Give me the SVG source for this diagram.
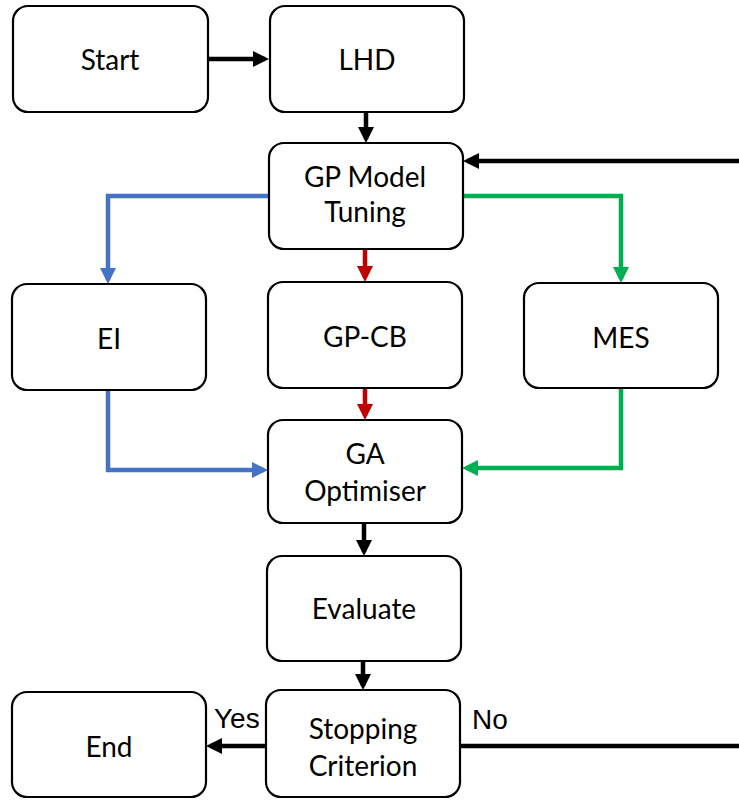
<svg xmlns="http://www.w3.org/2000/svg" width="739" height="801" viewBox="0 0 739 801">
<defs>
<style>
.box{fill:#fff;stroke:#000;stroke-width:2.2}
.t{font-family:Lato,"Open Sans","DejaVu Sans",sans-serif;font-size:28px;fill:#000;text-anchor:middle}
.lbl{font-family:"Liberation Sans",Arial,sans-serif;font-size:28px;fill:#000}
.c{fill:none;stroke-width:4.5}
.k{stroke:#000}
.b{stroke:#4472C4}
.r{stroke:#C00000}
.g{stroke:#00B050}
</style>
<marker id="ak" markerUnits="userSpaceOnUse" markerWidth="16" markerHeight="16" viewBox="0 0 16 16" refX="12" refY="8" orient="auto"><path d="M0,0 L16,8 L0,16 z" fill="#000"/></marker>
<marker id="ab" markerUnits="userSpaceOnUse" markerWidth="16" markerHeight="16" viewBox="0 0 16 16" refX="12" refY="8" orient="auto"><path d="M0,0 L16,8 L0,16 z" fill="#4472C4"/></marker>
<marker id="ar" markerUnits="userSpaceOnUse" markerWidth="16" markerHeight="16" viewBox="0 0 16 16" refX="12" refY="8" orient="auto"><path d="M0,0 L16,8 L0,16 z" fill="#C00000"/></marker>
<marker id="ag" markerUnits="userSpaceOnUse" markerWidth="16" markerHeight="16" viewBox="0 0 16 16" refX="12" refY="8" orient="auto"><path d="M0,0 L16,8 L0,16 z" fill="#00B050"/></marker>
</defs>
<rect width="739" height="801" fill="#fff"/>
<g id="connectors">
<path class="c k" d="M208,59 H265" marker-end="url(#ak)"/>
<path class="c k" d="M366,112 V139" marker-end="url(#ak)"/>
<path class="c k" d="M739,161 H467" marker-end="url(#ak)"/>
<path class="c b" d="M269,196 H108 V280" marker-end="url(#ab)"/>
<path class="c b" d="M108,390 V470 H264" marker-end="url(#ab)"/>
<path class="c r" d="M365,249 V278" marker-end="url(#ar)"/>
<path class="c r" d="M365,388 V416" marker-end="url(#ar)"/>
<path class="c g" d="M463,196 H621 V279" marker-end="url(#ag)"/>
<path class="c g" d="M621,388 V468 H466" marker-end="url(#ag)"/>
<path class="c k" d="M364,523 V552" marker-end="url(#ak)"/>
<path class="c k" d="M363,661 V686" marker-end="url(#ak)"/>
<path class="c k" d="M266,746 H210" marker-end="url(#ak)"/>
<path class="c k" d="M460,746 H739"/>
</g>
<g id="start"><rect class="box" x="13" y="6" width="195" height="106" rx="15"/><text class="t" x="110" y="70">Start</text></g>
<g id="lhd"><rect class="box" x="270" y="6" width="194" height="106" rx="15"/><text class="t" x="367" y="70">LHD</text></g>
<g id="gp"><rect class="box" x="269" y="143" width="194" height="106" rx="15"/><text class="t" x="365" y="187">GP Model</text><text class="t" x="365" y="222">Tuning</text></g>
<g id="ei"><rect class="box" x="12" y="284" width="194" height="106" rx="15"/><text class="t" x="109" y="349">EI</text></g>
<g id="gpcb"><rect class="box" x="268" y="282" width="194" height="106" rx="15"/><text class="t" x="365" y="347">GP-CB</text></g>
<g id="mes"><rect class="box" x="524" y="283" width="194" height="105" rx="15"/><text class="t" x="621" y="348">MES</text></g>
<g id="ga"><rect class="box" x="268" y="420" width="194" height="103" rx="15"/><text class="t" x="365" y="464">GA</text><text class="t" x="365" y="501">Optimiser</text></g>
<g id="evaluate"><rect class="box" x="267" y="556" width="194" height="105" rx="15"/><text class="t" x="364" y="619">Evaluate</text></g>
<g id="stopping"><rect class="box" x="266" y="690" width="194" height="107" rx="15"/><text class="t" x="363" y="739">Stopping</text><text class="t" x="363" y="776">Criterion</text></g>
<g id="end"><rect class="box" x="12" y="692" width="194" height="105" rx="15"/><text class="t" x="109" y="757">End</text></g>
<g id="labels"><text class="lbl" x="214" y="728">Yes</text><text class="lbl" x="472" y="729">No</text></g>
</svg>
